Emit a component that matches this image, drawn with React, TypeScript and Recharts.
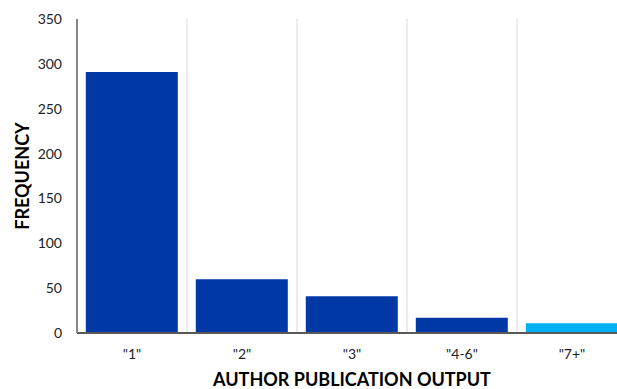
import { BarChart, Bar, XAxis, YAxis, CartesianGrid, Cell, Label } from 'recharts';

// publication output buckets and how many authors fall in each
const categories = ['"1"', '"2"', '"3"', '"4-6"', '"7+"'];
const frequency = [291, 60, 41, 17, 11];
const barColors = ['#0039A6', '#0039A6', '#0039A6', '#0039A6', '#00B0F0'];
const yTicks = [0, 50, 100, 150, 200, 250, 300, 350];
const boundaryTicks = [1, 2, 3, 4];

const data = categories.map((name, i) => ({ name, frequency: frequency[i], slot: i + 0.5 }));

const font = 'Lato, "Open Sans", sans-serif';
const titleStyle = { fontSize: 18, fontWeight: 700, fill: '#000', fontFamily: font };

const XTitle = () => (
  <text x={352} y={386} textAnchor="middle" style={titleStyle}>
    AUTHOR PUBLICATION OUTPUT
  </text>
);

const YTitle = () => {
  const cx = 22;
  const cy = 176;
  return (
    <text
      x={cx}
      y={cy}
      textAnchor="middle"
      dominantBaseline="central"
      transform={`rotate(-90 ${cx} ${cy})`}
      style={titleStyle}
    >
      FREQUENCY
    </text>
  );
};

export default function App() {
  return (
    <div
      style={{
        position: 'fixed',
        top: 0,
        left: 0,
        width: 617,
        height: 389,
        overflow: 'hidden',
        background: '#fff',
      }}
    >
      <BarChart
        width={640}
        height={389}
        data={data}
        margin={{ top: 19, right: 13, left: 0, bottom: 0 }}
        barCategoryGap="8%"
      >
        {/* vertical separators sit between categories, so they come from a hidden numeric axis */}
        <XAxis
          xAxisId="grid"
          dataKey="slot"
          type="number"
          domain={[0, 5]}
          allowDataOverflow
          ticks={boundaryTicks}
          hide
        />
        <CartesianGrid xAxisId="grid" horizontal={false} stroke="#D9D9D9" strokeWidth={1} />
        <XAxis
          dataKey="name"
          height={56}
          tickLine={false}
          tickMargin={10}
          axisLine={{ stroke: '#595959', strokeWidth: 2 }}
          tick={{ fontSize: 14, fill: '#222', fontFamily: font }}
        >
          <Label content={XTitle} />
        </XAxis>
        <YAxis
          width={77}
          domain={[0, 350]}
          ticks={yTicks}
          tickLine={false}
          tickSize={0}
          tickMargin={15}
          axisLine={{ stroke: '#868686', strokeWidth: 2 }}
          tick={{ fontSize: 14, fill: '#222', fontFamily: font }}
        >
          <Label content={YTitle} />
        </YAxis>
        <Bar dataKey="frequency" isAnimationActive={false}>
          {data.map((d, i) => (
            <Cell key={d.name} fill={barColors[i]} />
          ))}
        </Bar>
      </BarChart>
    </div>
  );
}
